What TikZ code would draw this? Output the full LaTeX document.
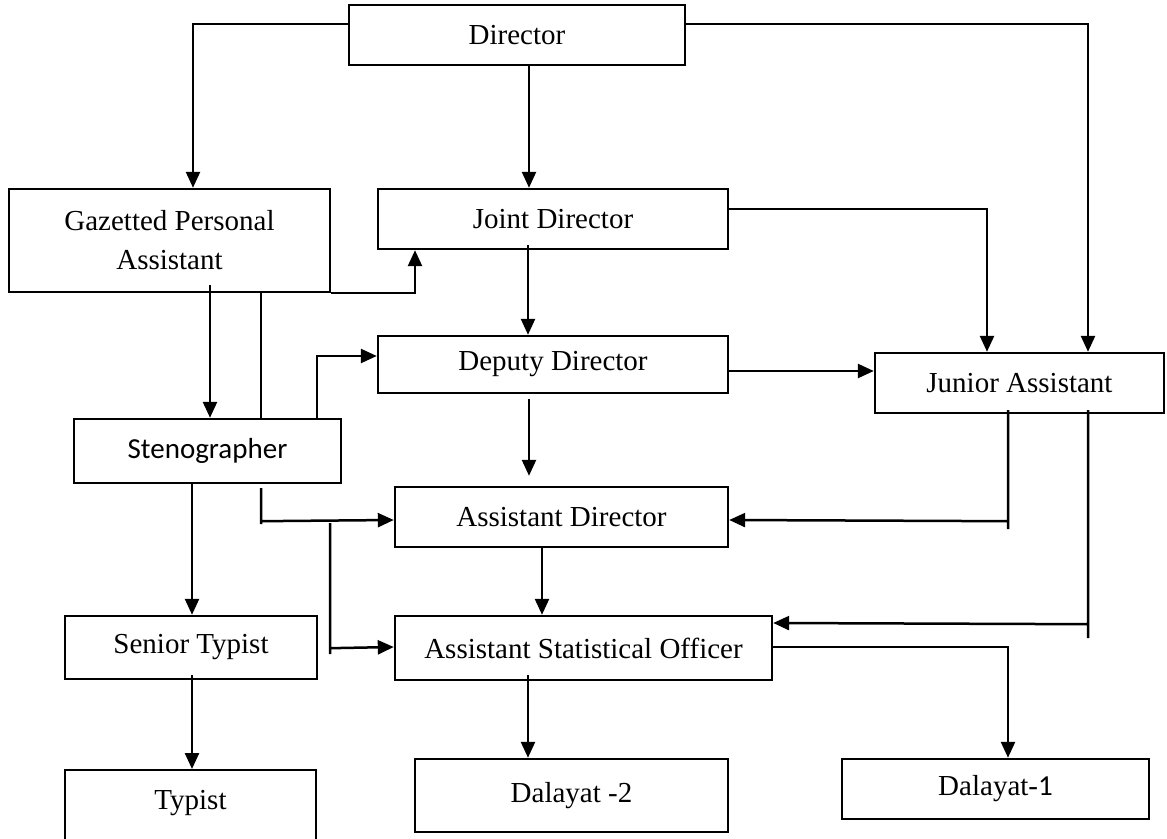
\documentclass[tikz,border=0pt]{standalone}
\usepackage{fontspec}
\setmainfont{Liberation Serif}
\newfontfamily\calibri{Carlito}
\usetikzlibrary{arrows.meta,calc}

\begin{document}
\begin{tikzpicture}[
        x=0.5pt, y=-0.5pt,
        box/.style={draw, line width=1.2pt, inner sep=0pt, align=center,
            font=\fontsize{14.5}{19.5}\selectfont},
        link/.style={line width=1.25pt},
        arr/.style={link, -{Triangle[length=8pt,width=7pt]}},
    ]
    \clip (0,0) rectangle (1167,839);
    % boxes
    \node[box, minimum width=168pt, minimum height=30pt] at (517,35) (dir) {Director};
    \node[box, minimum width=160.5pt, minimum height=51.5pt] at (169.5,240.5) (gpa) {Gazetted Personal\\Assistant};
    \node[box, minimum width=175pt, minimum height=30pt] at (553,219) (jd) {Joint Director};
    \node[box, minimum width=175pt, minimum height=28.5pt] at (553,364.5) (dd) {Deputy Director};
    \node[box, minimum width=144.5pt, minimum height=30pt] at (1019.5,383) (ja) {Junior Assistant};
    \node[box, minimum width=133.5pt, minimum height=32pt] at (207.5,451) (steno) {\calibri Stenographer};
    \node[box, minimum width=166.5pt, minimum height=30pt] at (561.5,517) (ad) {Assistant Director};
    \node[box, minimum width=126pt, minimum height=31.5pt] at (191,647.5) (st) {Senior Typist};
    \node[box, minimum width=188.5pt, minimum height=32pt] at (583.5,648) (aso) {Assistant Statistical Officer};
    \node[box, anchor=north, minimum width=125.5pt, text height=19.5pt, text depth=36pt] at (190.5,769) (typ) {Typist};
    \node[box, minimum width=156.5pt, minimum height=36.5pt] at (571.5,795.5) (d2) {Dalayat -2};
    \node[box, minimum width=153.5pt, minimum height=30pt] at (995.5,789) (d1) {Dalayat-{\calibri 1}};

    % from the director
    \draw[arr] ($(dir.west)+(0,-11)$) -| ($(gpa.north)+(23.5,0)$);
    \draw[arr] ($(dir.east)+(0,-11)$) -| ($(ja.north)+(68.5,0)$);
    \draw[arr] ($(dir.south)+(12,0)$) -- ($(jd.north)+(-24,0)$);

    % personal assistant and stenographer
    \draw[arr] (gpa.south east) -| ($(jd.south)+(-138,0)$);
    \draw[arr] ($(gpa.south)+(40.5,-8)$) -- ($(steno.north)+(2.5,0)$);
    \draw[link] ($(gpa.south)+(91.5,0)$) -- ($(steno.north)+(53.5,0)$);
    \draw[arr] ($(steno.north)+(109.5,0)$) |- ($(dd.west)+(0,-8.5)$);
    \draw[arr] ($(steno.south)+(53.5,4)$) coordinate (s1) -- ++(0,36)
               ($(s1)+(0,33)$) -- ($(ad.west)+(0,3)$);
    \draw[arr] ($(steno.south)+(122.5,39)$) coordinate (s2) -- ++(0,131)
               ($(s2)+(0,125)$) -- ($(aso.west)+(0,-1)$);
    \draw[arr] ($(steno.south)+(-15.5,0)$) -- ($(st.north)+(1,0)$);
    \draw[arr] ($(st.south)+(1,-5)$) -- ($(typ.north)+(1.5,0)$);

    % directors
    \draw[arr] ($(jd.south)+(-25,-5)$) -- ($(dd.north)+(-25,0)$);
    \draw[arr] ($(jd.east)+(0,-10)$) -| ($(ja.north)+(-32.5,0)$);
    \draw[arr] ($(dd.east)+(0,6.5)$) -- ($(ja.west)+(0,-12)$);
    \draw[arr] ($(dd.south)+(-24,5)$) -- ($(ad.north)+(-32.5,-10)$);
    \draw[arr] ($(ad.south)+(-19.5,0)$) -- ($(aso.north)+(-41.5,0)$);

    % junior assistant
    \draw[arr] ($(ja.south)+(-11.5,-4)$) coordinate (j1) -- ++(0,119)
               ($(j1)+(0,111)$) -- ($(ad.east)+(0,3)$);
    \draw[arr] ($(ja.south)+(68.5,-4)$) coordinate (j2) -- ++(0,228)
               ($(j2)+(0,214)$) -- ($(aso.east)+(0,-25)$);

    % statistical officer
    \draw[arr] ($(aso.east)+(0,-1)$) -| ($(d1.north)+(12.5,0)$);
    \draw[arr] ($(aso.south)+(-55.5,-6)$) -- ($(d2.north)+(-43.5,0)$);
\end{tikzpicture}
\end{document}
